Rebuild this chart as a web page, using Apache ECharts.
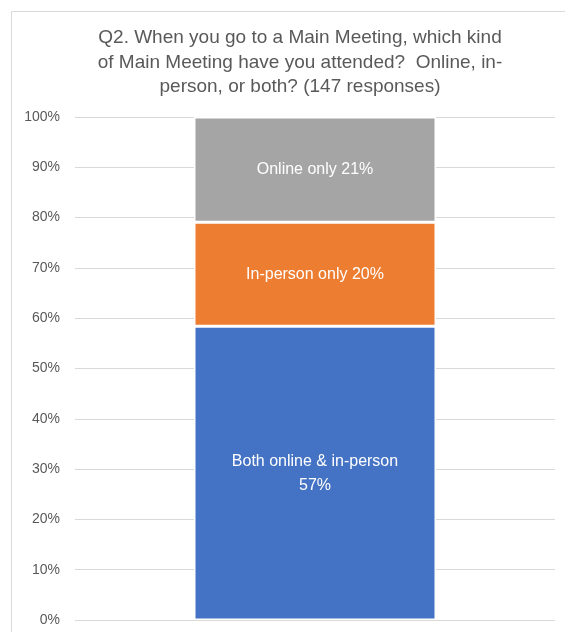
<!DOCTYPE html>
<html lang="en">

<head>
    <meta charset="UTF-8">
    <title>Q2 Main Meeting attendance</title>
    <script src="https://cdn.jsdelivr.net/npm/echarts@6/dist/echarts.min.js"></script>
    <style>
        html, body { margin: 0; padding: 0; background: #fff; }
        #chart { width: 565px; height: 632px; }
    </style>
</head>

<body>
    <div id="chart"></div>
    <script>
        // data (bar heights as shares of 100%)
        var categories = ['Q2'];
        var seriesNames = ['Both online & in-person', 'In-person only', 'Online only'];
        var bothValues = [58.4];
        var inPersonValues = [20.7];
        var onlineValues = [20.9];
        var labelTexts = ['Both online & in-person\n57%', 'In-person only 20%', 'Online only 21%'];
        var colors = ['#4472c4', '#ed7d31', '#a5a5a5'];

        var chart = echarts.init(document.getElementById('chart'));
        var valueSets = [bothValues, inPersonValues, onlineValues];

        var series = seriesNames.map(function (name, i) {
            return {
                name: name,
                type: 'bar',
                stack: 'total',
                barWidth: 242,
                data: valueSets[i],
                itemStyle: { color: colors[i], borderColor: '#fff', borderWidth: 1.5 },
                label: {
                    show: true,
                    position: 'inside',
                    formatter: labelTexts[i],
                    color: '#fff',
                    fontSize: 16,
                    lineHeight: 24,
                    fontFamily: 'Liberation Sans, Arial, sans-serif'
                }
            };
        });

        var option = {
            animation: false,
            title: {
                text: 'Q2. When you go to a Main Meeting, which kind\nof Main Meeting have you attended?  Online, in-\nperson, or both? (147 responses)',
                left: 295,
                textAlign: 'center',
                top: 21,
                textStyle: {
                    color: '#595959',
                    fontSize: 19,
                    fontWeight: 'normal',
                    lineHeight: 24.5,
                    fontFamily: 'Liberation Sans, Arial, sans-serif'
                }
            },
            graphic: [{
                type: 'rect',
                shape: { x: 11.5, y: 11.5, width: 700, height: 700 },
                style: { fill: 'none', stroke: '#d9d9d9', lineWidth: 1 },
                silent: true
            }],
            grid: { left: 75, right: 10, top: 117, bottom: 12 },
            xAxis: {
                type: 'category',
                data: categories,
                axisLine: { show: false },
                axisTick: { show: false },
                axisLabel: { show: false }
            },
            yAxis: {
                type: 'value',
                min: 0,
                max: 100,
                interval: 10,
                axisLabel: {
                    formatter: '{value}%',
                    color: '#595959',
                    fontSize: 14,
                    margin: 15,
                    fontFamily: 'Liberation Sans, Arial, sans-serif'
                },
                splitLine: { lineStyle: { color: '#d9d9d9', width: 1 } }
            },
            series: series
        };

        chart.setOption(option);
    </script>
</body>

</html>
